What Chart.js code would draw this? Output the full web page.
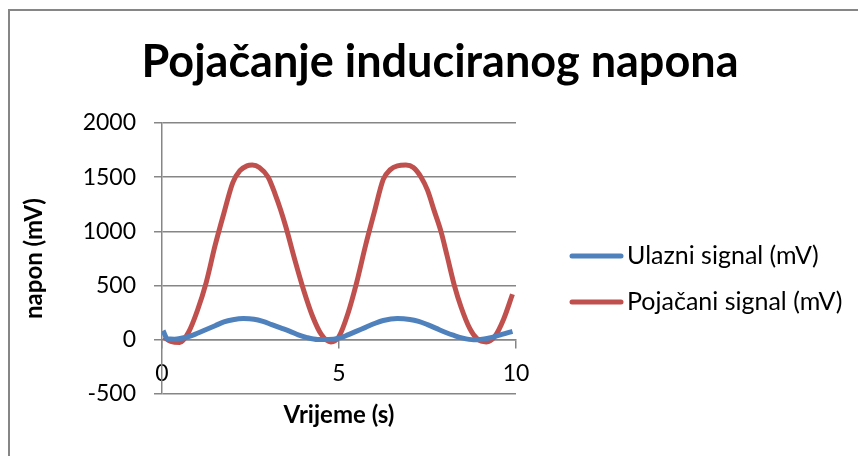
<!DOCTYPE html>
<html>
<head>
<meta charset="utf-8">
<script src="https://cdn.jsdelivr.net/npm/chart.js@4.4.1/dist/chart.umd.min.js"></script>
<style>
    html, body { margin: 0; padding: 0; background: #fff; }
    #wrap { width: 858px; height: 456px; position: relative; }
</style>
</head>
<body>
<div id="wrap"><canvas id="chart"></canvas></div>
<script>
// --- DATA ---
const chartTitle = "Pojačanje induciranog napona";
const xTitle = "Vrijeme (s)";
const yTitle = "napon (mV)";
const seriesNames = ["Ulazni signal (mV)", "Pojačani signal (mV)"];

// input signal
const ulazT = [0.03, 0.15, 0.35, 0.75, 1.0, 1.25, 1.5, 1.75, 2.0, 2.3, 2.6, 2.85, 3.1, 3.35, 3.6, 3.85, 4.1, 4.4, 4.7,
    5.0, 5.25, 5.5, 5.75, 6.0, 6.25, 6.65, 7.0, 7.25, 7.5, 7.75, 8.0, 8.25, 8.5, 8.8, 9.1, 9.35, 9.6, 9.9];
const ulazV = [85, 10, 5, 30, 60, 95, 130, 165, 185, 196, 190, 170, 140, 110, 80, 45, 20, 3, 2,
    15, 45, 80, 115, 150, 178, 196, 188, 170, 140, 105, 70, 40, 15, 0, 8, 25, 50, 78];

// amplified signal
const pojT = [0.05, 0.25, 0.5, 0.75, 1.0, 1.25, 1.5, 1.75, 2.0, 2.2, 2.4, 2.55, 2.75, 3.0, 3.2, 3.35, 3.5, 3.75, 4.0, 4.25, 4.5, 4.77,
    5.0, 5.25, 5.5, 5.75, 6.0, 6.25, 6.45, 6.65, 6.89, 7.1, 7.32, 7.5, 7.7, 7.88, 8.05, 8.26, 8.45, 8.7, 8.9, 9.16, 9.4, 9.65, 9.9];
const pojV = [25, -15, -25, 70, 270, 530, 870, 1170, 1450, 1560, 1605, 1612, 1590, 1500, 1340, 1200, 1040, 740, 460, 220, 50, -20,
    30, 240, 530, 870, 1180, 1480, 1570, 1605, 1612, 1590, 1500, 1380, 1180, 1000, 780, 500, 300, 100, 10, -20, 30, 190, 420];

const xMin = 0, xMax = 10, xStep = 5;
const yMin = -500, yMax = 2000, yStep = 500;

const colors = ["#4F81BD", "#C0504D"];
const gridColor = "#868686";
const fontFamily = "Lato, 'Open Sans', sans-serif";

function toPoints(ts, vs) {
    return ts.map((t, i) => ({ x: t, y: vs[i] }));
}

// title, legend and outer frame, Excel style
const excelDecor = {
    id: "excelDecor",
    beforeDraw(chart) {
        const ctx = chart.ctx;
        ctx.save();
        ctx.fillStyle = "#fff";
        ctx.fillRect(0, 0, chart.width, chart.height);
        ctx.strokeStyle = gridColor;
        ctx.lineWidth = 2;
        ctx.strokeRect(9, 10, chart.width + 20, chart.height + 20);
        ctx.restore();
    },
    afterDraw(chart) {
        const ctx = chart.ctx;
        ctx.save();
        // title
        ctx.fillStyle = "#000";
        ctx.font = "bold 45px " + fontFamily;
        ctx.textAlign = "center";
        ctx.textBaseline = "middle";
        ctx.fillText(chartTitle, 440, 62);
        // legend
        ctx.font = "25px " + fontFamily;
        ctx.textAlign = "left";
        chart.data.datasets.forEach((ds, i) => {
            const y = 256 + i * 46;
            ctx.strokeStyle = ds.borderColor;
            ctx.lineWidth = 5;
            ctx.lineCap = "round";
            ctx.beginPath();
            ctx.moveTo(572, y);
            ctx.lineTo(621, y);
            ctx.stroke();
            ctx.fillStyle = "#000";
            ctx.fillText(ds.label, 627, y);
        });
        ctx.restore();
    }
};

new Chart(document.getElementById("chart"), {
    type: "scatter",
    data: {
        datasets: [
            {
                label: seriesNames[0],
                data: toPoints(ulazT, ulazV),
                showLine: true,
                borderColor: colors[0],
                backgroundColor: colors[0],
                borderWidth: 5,
                pointRadius: 0,
                cubicInterpolationMode: "monotone"
            },
            {
                label: seriesNames[1],
                data: toPoints(pojT, pojV),
                showLine: true,
                borderColor: colors[1],
                backgroundColor: colors[1],
                borderWidth: 5,
                pointRadius: 0,
                cubicInterpolationMode: "monotone"
            }
        ]
    },
    options: {
        responsive: true,
        maintainAspectRatio: false,
        animation: false,
        layout: { padding: { left: 18, right: 342, top: 123, bottom: 62 } },
        plugins: {
            legend: { display: false },
            title: { display: false },
            tooltip: { enabled: false }
        },
        scales: {
            x: {
                type: "linear",
                position: { y: 0 },
                min: xMin,
                max: xMax,
                ticks: { stepSize: xStep, color: "#000", font: { family: fontFamily, size: 23 }, padding: 12, maxRotation: 0 },
                grid: { drawOnChartArea: false, color: gridColor, tickLength: 8, lineWidth: 1.5 },
                border: { color: gridColor, width: 1.5 },
                title: { display: true, text: xTitle, color: "#000", font: { family: fontFamily, size: 24, weight: "bold" }, padding: { top: 1, bottom: 0 } }
            },
            y: {
                min: yMin,
                max: yMax,
                ticks: { stepSize: yStep, color: "#000", font: { family: fontFamily, size: 23 }, padding: 18, format: { useGrouping: false } },
                grid: { color: gridColor, tickLength: 8, lineWidth: 1.5 },
                border: { color: gridColor, width: 1.5 },
                title: { display: true, text: yTitle, color: "#000", font: { family: fontFamily, size: 24, weight: "bold" }, padding: { top: 2, bottom: 2 } },
                afterFit(scale) { scale.width = 144; }
            }
        }
    },
    plugins: [excelDecor]
});
</script>
</body>
</html>
